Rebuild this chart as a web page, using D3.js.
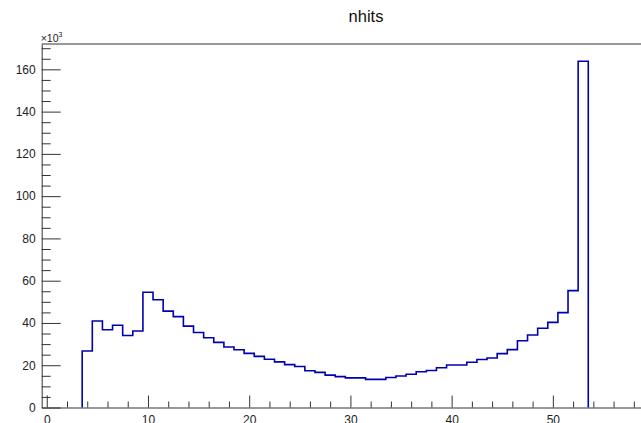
<!DOCTYPE html>
<html>
<head>
<meta charset="utf-8">
<script src="https://cdn.jsdelivr.net/npm/d3@7"></script>
<style>
  html, body { margin: 0; padding: 0; background: #fff; }
  svg { display: block; font-family: 'Liberation Sans', Arial, Helvetica, sans-serif; }
</style>
</head>
<body>
<div id="chart"></div>
<script>
// histogram of nhits, 60 bins of width 1 starting at -0.5
const binLow = -0.5
const binWidth = 1
const counts = [
  0, 0, 0, 0, 26700, 40900, 36800, 38900, 34100, 36200,
  54500, 51000, 45600, 43000, 38500, 35500, 33000, 30800, 28600, 27300,
  25600, 24200, 22800, 21600, 20300, 19400, 17400, 16600, 15300, 14600,
  14000, 14000, 13300, 13300, 14200, 14900, 15700, 16900, 17500, 18800,
  20100, 20100, 21400, 22700, 23400, 25500, 27400, 31600, 34300, 37500,
  40300, 44900, 55300, 163800, 0, 0, 0, 0, 0, 0
]
const xMajorTicks = [0, 10, 20, 30, 40, 50]
const xMinorTicks = [2, 4, 6, 8, 12, 14, 16, 18, 22, 24, 26, 28, 32, 34, 36, 38, 42, 44, 46, 48, 52, 54, 56, 58]
const yMajorTicks = [0, 20000, 40000, 60000, 80000, 100000, 120000, 140000, 160000]
const yMinorTicks = [5000, 10000, 15000, 25000, 30000, 35000, 45000, 50000, 55000, 65000, 70000, 75000,
  85000, 90000, 95000, 105000, 110000, 115000, 125000, 130000, 135000, 145000, 150000, 155000, 165000, 170000]
const title = 'nhits'

const width = 641
const height = 423
const frame = { left: 41.7, top: 44, bottom: 407.5, right: 649 }

let svg = d3.select('#chart').append('svg')
  .attr('width', width)
  .attr('height', height)

let x = d3.scaleLinear()
  .domain([binLow, binLow + counts.length * binWidth])
  .range([frame.left, frame.right])

let y = d3.scaleLinear()
  .domain([0, d3.max(counts) * 1.05])
  .range([frame.bottom, frame.top])

// step outline, only between the first and last filled bins
let first = counts.findIndex(c => c > 0)
let last = counts.length - 1 - [...counts].reverse().findIndex(c => c > 0)
let pts = [[x(binLow + first * binWidth), y(0)]]
for (let i = first; i <= last; i++) {
  let lo = binLow + i * binWidth
  pts.push([x(lo), y(counts[i])])
  pts.push([x(lo + binWidth), y(counts[i])])
}
pts.push([x(binLow + (last + 1) * binWidth), y(0)])

svg.append('path')
  .attr('d', d3.line()(pts))
  .attr('fill', 'none')
  .attr('stroke', '#0000b0')
  .attr('stroke-width', 1.6)

// frame top
svg.append('line')
  .attr('x1', frame.left).attr('x2', width)
  .attr('y1', frame.top).attr('y2', frame.top)
  .attr('stroke', '#333')

let axisStyle = g => {
  g.selectAll('path, line').attr('stroke', '#333').attr('stroke-width', 1)
  g.selectAll('text').attr('fill', '#222').attr('font-size', 12)
}

// x axis
svg.append('g')
  .attr('transform', `translate(0,${frame.bottom})`)
  .call(d3.axisBottom(x).tickValues(xMinorTicks).tickSizeInner(-6).tickSizeOuter(0).tickFormat(''))
  .call(axisStyle)
svg.append('g')
  .attr('transform', `translate(0,${frame.bottom})`)
  .call(d3.axisBottom(x).tickValues(xMajorTicks).tickSizeInner(-12).tickSizeOuter(0).tickPadding(7.5))
  .call(axisStyle)
  .call(g => g.select('.domain').remove())

// y axis
svg.append('g')
  .attr('transform', `translate(${frame.left},0)`)
  .call(d3.axisLeft(y).tickValues(yMinorTicks).tickSizeInner(-9).tickSizeOuter(0).tickFormat(''))
  .call(axisStyle)
svg.append('g')
  .attr('transform', `translate(${frame.left},0)`)
  .call(d3.axisLeft(y).tickValues(yMajorTicks).tickSizeInner(-19).tickSizeOuter(0).tickPadding(6)
    .tickFormat(d => d / 1000))
  .call(axisStyle)
  .call(g => g.select('.domain').remove())

// exponent label
let expo = svg.append('text')
  .attr('x', frame.left - 1)
  .attr('y', 41.5)
  .attr('font-size', 10.5)
  .attr('fill', '#222')
expo.append('tspan').text('\u00d710')
expo.append('tspan').attr('font-size', 7).attr('dy', -4.5).text('3')

// title
svg.append('text')
  .attr('x', 366)
  .attr('y', 22)
  .attr('text-anchor', 'middle')
  .attr('font-size', 16.5)
  .attr('fill', '#111')
  .text(title)
</script>
</body>
</html>
